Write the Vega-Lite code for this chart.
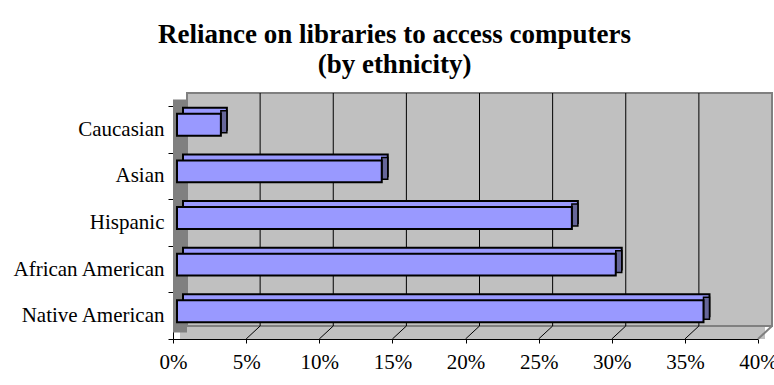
{
  "$schema": "https://vega.github.io/schema/vega-lite/v6.json",
  "autosize": "none",
  "width": 585,
  "height": 233,
  "padding": {"left": 173, "top": 106, "right": 16, "bottom": 46},
  "background": "white",
  "title": {
    "text": ["Reliance on libraries to access computers", "(by ethnicity)"],
    "font": "Liberation Serif",
    "fontSize": 27,
    "fontWeight": "bold",
    "color": "black",
    "anchor": "middle",
    "frame": "group",
    "dx": -71,
    "baseline": "bottom",
    "lineHeight": 30,
    "offset": -14
  },
  "datasets": {
    "bars": [
      {"ethnicity": "Caucasian", "share": 0.03},
      {"ethnicity": "Asian", "share": 0.14},
      {"ethnicity": "Hispanic", "share": 0.27},
      {"ethnicity": "African American", "share": 0.30},
      {"ethnicity": "Native American", "share": 0.36}
    ],
    "grid": [
      {"t": 0.05}, {"t": 0.10}, {"t": 0.15}, {"t": 0.20},
      {"t": 0.25}, {"t": 0.30}, {"t": 0.35}
    ],
    "frame": [{"lo": 0, "hi": 0.4}]
  },
  "layer": [
    {
      "data": {"name": "frame"},
      "mark": {"type": "rect", "fill": "#c0c0c0", "xOffset": 7, "x2Offset": 7, "yOffset": -13, "y2Offset": 0},
      "encoding": {
        "x": {"field": "lo", "type": "quantitative", "scale": {"domain": [0, 0.4], "nice": false}, "title": null},
        "x2": {"field": "hi"},
        "y": {"value": "height"},
        "y2": {"value": "height"}
      }
    },
    {
      "data": {"name": "frame"},
      "mark": {"type": "rect", "fill": "#c0c0c0", "stroke": "#808080", "strokeWidth": 2, "xOffset": 14, "x2Offset": 14, "yOffset": -13, "y2Offset": -13},
      "encoding": {
        "x": {"field": "lo", "type": "quantitative", "title": null},
        "x2": {"field": "hi"},
        "y": {"value": 0},
        "y2": {"value": "height"}
      }
    },
    {
      "data": {"name": "frame"},
      "mark": {"type": "rect", "fill": "#808080", "x2Offset": 14, "yOffset": -6.5, "y2Offset": -6.5},
      "encoding": {
        "x": {"field": "lo", "type": "quantitative", "title": null},
        "x2": {"field": "lo"},
        "y": {"value": 0},
        "y2": {"value": "height"}
      }
    },
    {
      "data": {"name": "frame"},
      "mark": {"type": "rule", "color": "#808080", "strokeWidth": 2, "x2Offset": 14, "y2Offset": -13},
      "encoding": {
        "x": {"field": "hi", "type": "quantitative", "title": null},
        "x2": {"field": "hi"},
        "y": {"value": "height"},
        "y2": {"value": "height"}
      }
    },
    {
      "data": {"name": "grid"},
      "mark": {"type": "rule", "color": "black", "strokeWidth": 1, "xOffset": 14, "yOffset": -13, "y2Offset": -13},
      "encoding": {
        "x": {"field": "t", "type": "quantitative", "title": null},
        "y": {"value": 0},
        "y2": {"value": "height"}
      }
    },
    {
      "data": {"name": "grid"},
      "mark": {"type": "rule", "color": "black", "strokeWidth": 1, "x2Offset": 14, "y2Offset": -13},
      "encoding": {
        "x": {"field": "t", "type": "quantitative", "title": null},
        "x2": {"field": "t"},
        "y": {"value": "height"},
        "y2": {"value": "height"}
      }
    },
    {
      "data": {"name": "bars"},
      "mark": {"type": "bar", "fill": "#9999ff", "stroke": "black", "strokeWidth": 2, "height": {"band": 0.47}, "xOffset": 10, "x2Offset": 10, "yOffset": -10.5, "y2Offset": -10.5},
      "encoding": {
        "y": {"field": "ethnicity", "type": "nominal", "sort": null, "title": null, "scale": {"paddingInner": 0, "paddingOuter": 0}},
        "x": {"field": "share", "type": "quantitative", "title": null},
        "x2": {"datum": 0}
      }
    },
    {
      "data": {"name": "bars"},
      "mark": {"type": "bar", "fill": "#666699", "stroke": "black", "strokeWidth": 1.5, "height": {"band": 0.47}, "xOffset": 4, "x2Offset": 10, "yOffset": -7.5, "y2Offset": -7.5},
      "encoding": {
        "y": {"field": "ethnicity", "type": "nominal", "sort": null, "title": null},
        "x": {"field": "share", "type": "quantitative", "title": null},
        "x2": {"field": "share"}
      }
    },
    {
      "data": {"name": "bars"},
      "mark": {"type": "bar", "fill": "#9999ff", "stroke": "black", "strokeWidth": 2, "height": {"band": 0.47}, "xOffset": 4, "x2Offset": 4, "yOffset": -4.5, "y2Offset": -4.5},
      "encoding": {
        "y": {"field": "ethnicity", "type": "nominal", "sort": null, "title": null},
        "x": {
          "field": "share", "type": "quantitative", "title": null,
          "axis": {"values": [0, 0.05, 0.1, 0.15, 0.2, 0.25, 0.3, 0.35, 0.4], "format": ".0%"}
        },
        "x2": {"datum": 0}
      }
    }
  ],
  "config": {
    "view": {"stroke": null},
    "axis": {
      "zindex": 1,
      "grid": false,
      "domainColor": "black",
      "domainWidth": 1,
      "tickColor": "black",
      "labelFont": "Liberation Serif",
      "labelFontSize": 21,
      "labelColor": "black"
    },
    "axisX": {"tickSize": 4, "labelPadding": 8, "labelFlush": false, "labelOverlap": false},
    "axisY": {"tickSize": 5, "labelPadding": 4, "tickBand": "extent", "labelBaseline": "middle"}
  }
}
